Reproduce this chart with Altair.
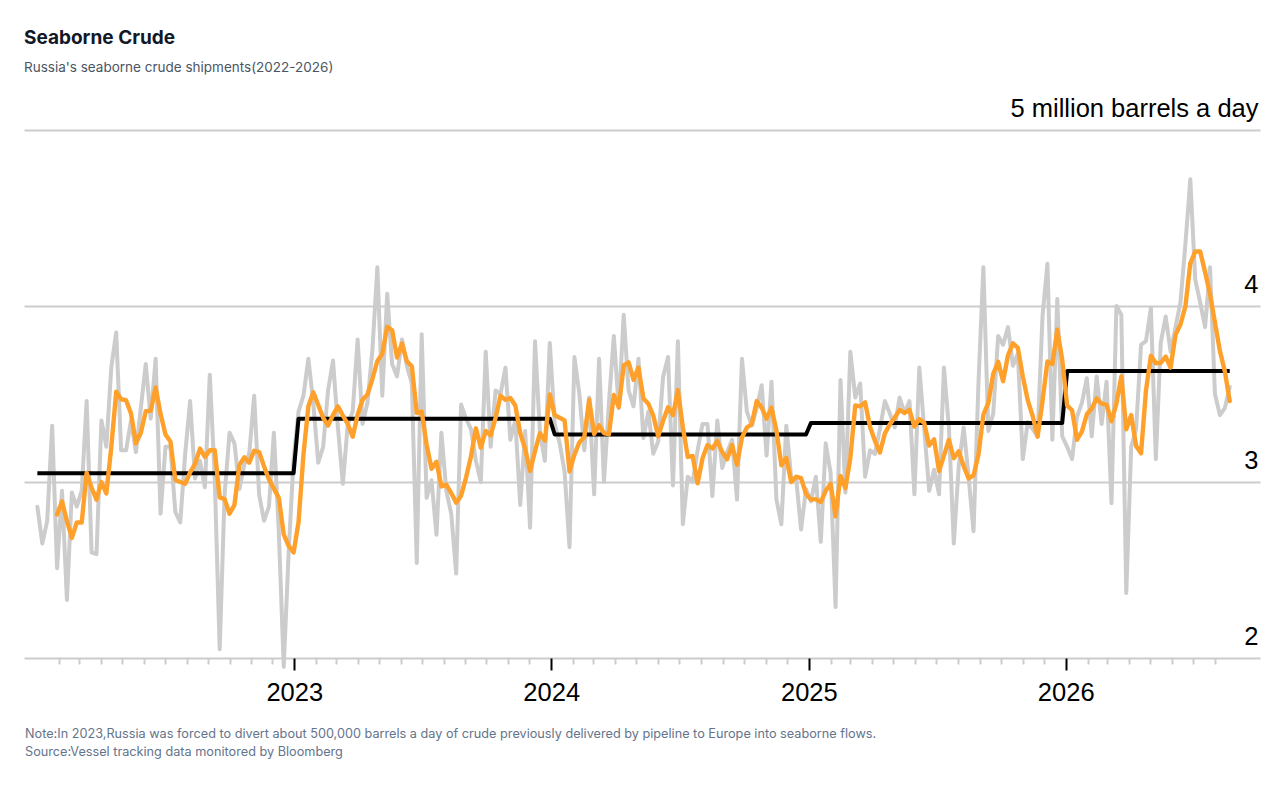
import altair as alt
import pandas as pd

# ---------------- data ----------------
first_week = "2022-01-01"
weekly_shipments = [
    2.86, 2.65, 2.78, 3.32, 2.51, 2.95, 2.33, 2.94, 2.86, 2.95,
    3.46, 2.60, 2.59, 3.35, 3.20, 3.65, 3.85, 3.18, 3.18, 3.35,
    3.17, 3.42, 3.67, 3.36, 3.70, 2.82, 3.20, 3.20, 2.83, 2.77,
    3.16, 3.46, 3.02, 3.12, 2.97, 3.61, 3.02, 2.05, 2.93, 3.28,
    3.22, 2.96, 3.10, 3.16, 3.49, 2.93, 2.78, 2.86, 3.28, 2.72,
    1.95, 2.60, 3.13, 3.40, 3.49, 3.70, 3.45, 3.11, 3.20, 3.52,
    3.69, 3.31, 2.99, 3.33, 3.40, 3.81, 3.33, 3.45, 3.75, 4.22,
    3.49, 4.07, 3.67, 3.60, 3.81, 3.66, 3.56, 2.54, 3.84, 2.91,
    3.01, 2.70, 3.28, 2.95, 2.82, 2.48, 3.44, 3.36, 3.30, 3.12,
    3.00, 3.74, 3.20, 3.52, 3.50, 3.65, 3.24, 3.35, 2.87, 3.29,
    2.74, 3.80, 3.28, 3.12, 3.79, 3.33, 3.22, 3.06, 2.63, 3.71,
    3.50, 3.18, 3.48, 2.93, 3.70, 3.00, 3.45, 3.83, 3.42, 3.95,
    3.52, 3.43, 3.70, 3.25, 3.40, 3.16, 3.23, 3.60, 3.71, 2.98,
    3.80, 2.76, 3.03, 3.00, 3.18, 3.33, 3.33, 2.92, 3.35, 3.08,
    3.17, 3.24, 2.90, 3.70, 3.40, 3.32, 3.42, 3.55, 3.15, 3.57,
    2.90, 2.76, 3.32, 3.02, 3.02, 2.73, 2.96, 2.89, 3.03, 2.66,
    3.22, 3.05, 2.29, 3.58, 2.94, 3.74, 3.48, 3.56, 3.03, 3.18,
    3.16, 3.30, 3.46, 3.39, 3.31, 3.48, 3.39, 3.46, 2.93, 3.65,
    3.30, 2.95, 3.07, 2.93, 3.65, 3.31, 2.65, 3.09, 3.31, 3.03,
    2.72, 3.56, 4.22, 3.29, 3.39, 3.83, 3.78, 3.88, 3.66, 3.73,
    3.13, 3.34, 3.30, 3.26, 3.94, 4.24, 3.24, 4.04, 3.26, 3.20,
    3.13, 3.37, 3.45, 3.59, 3.26, 3.60, 3.33, 3.57, 2.88, 4.00,
    3.95, 2.37, 3.20, 3.30, 3.78, 3.80, 3.99, 3.13, 3.79, 3.94,
    3.74, 3.88, 4.02, 4.35, 4.72, 4.15, 4.02, 3.88, 4.22, 3.50,
    3.38, 3.42, 3.54,
]
avg_years = [2022, 2023, 2024, 2025, 2026]
annual_average = [3.05, 3.36, 3.27, 3.335, 3.63]
labelled_years = [2023, 2024, 2025, 2026]
y_ticks = [2, 3, 4, 5]
unit_label = "5 million barrels a day"
title_text = "Seaborne Crude"
subtitle_text = "Russia's seaborne crude shipments(2022-2026)"
note_text = ("Note:In 2023,Russia was forced to divert about 500,000 barrels a day of crude "
             "previously delivered by pipeline to Europe into seaborne flows.")
source_text = "Source:Vessel tracking data monitored by Bloomberg"

# ---------------- tables ----------------
dates = pd.date_range(first_week, periods=len(weekly_shipments), freq="7D")
avg_lookup = dict(zip(avg_years, annual_average))
df = pd.DataFrame({
    "date": dates,
    "value": weekly_shipments,
    "avg": [avg_lookup[d.year] for d in dates],
})

month_ticks = [alt.DateTime(year=y, month=m, date=1)
               for y in range(2022, 2027) for m in range(2, 13)
               if not (y == 2026 and m > 8)]
year_ticks = [alt.DateTime(year=y, month=1, date=1) for y in labelled_years]

x_scale = alt.Scale(domain=[alt.DateTime(year=2021, month=12, date=13),
                            alt.DateTime(year=2026, month=10, date=4)])
y_scale = alt.Scale(domain=[2, 5], nice=False, zero=False)

LABEL_FONT = "Liberation Sans"

y_enc = lambda field: alt.Y(
    field, type="quantitative", scale=y_scale, title=None,
    axis=alt.Axis(orient="right", values=y_ticks, grid=True, gridColor="#cccccc",
                  gridWidth=1.8, domain=False, ticks=False, labelAlign="right",
                  labelBaseline="alphabetic", labelPadding=-2, labelOffset=-14,
                  labelFont=LABEL_FONT, labelFontSize=25.5, labelColor="#000000",
                  labelFlush=False, labelLimit=600,
                  labelExpr=f"datum.value == 5 ? '{unit_label}' : datum.label"))

base = alt.Chart(df)

gray = base.mark_line(color="#cccccc", strokeWidth=4, strokeCap="round",
                      strokeJoin="round").encode(
    x=alt.X("date:T", scale=x_scale, title=None,
            axis=alt.Axis(orient="bottom", values=month_ticks, labels=False,
                          tickColor="#cccccc", tickWidth=2, tickSize=6,
                          domain=False, grid=False)),
    y=y_enc("value"),
)

black = base.mark_line(color="#000000", strokeWidth=4, strokeJoin="round").encode(
    x=alt.X("date:T", scale=x_scale, title=None,
            axis=alt.Axis(orient="bottom", values=year_ticks, format="%Y",
                          tickColor="#000000", tickWidth=2, tickSize=12,
                          labelPadding=30, labelBaseline="alphabetic",
                          labelFont=LABEL_FONT, labelFontSize=25.5,
                          labelColor="#000000", labelFlush=False,
                          domain=False, grid=False)),
    y=y_enc("avg"),
)

orange = base.transform_window(
    ma="mean(value)", frame=[-3, 0], sort=[alt.SortField("date")]
).transform_window(
    idx="row_number()", sort=[alt.SortField("date")]
).transform_filter("datum.idx >= 5").mark_line(
    color="#ffa02a", strokeWidth=4.4, strokeCap="round", strokeJoin="round"
).encode(
    x=alt.X("date:T", scale=x_scale, title=None, axis=None),
    y=y_enc("ma"),
)

def footer_line(text, ypos):
    return alt.Chart(pd.DataFrame({"line": [text]})).mark_text(
        align="left", baseline="middle", font="Inter", fontSize=12.7,
        color="#64748b"
    ).encode(x=alt.value(1), y=alt.value(ypos), text="line:N")

chart = alt.layer(
    gray, black, orange,
    footer_line(note_text, 604), footer_line(source_text, 622),
).resolve_axis(x="independent").properties(
    width=1236, height=528,
    autosize=alt.AutoSizeParams(type="none"),
    padding={"left": 16, "top": 122, "right": 16, "bottom": 122},
    title=alt.TitleParams(
        title_text, subtitle=subtitle_text, anchor="start", frame="group",
        font="Inter", fontSize=19, fontWeight="bold", color="#111827",
        subtitleFont="Inter", subtitleFontSize=13.5, subtitleColor="#4b5563",
        subtitlePadding=13, offset=22,
    ),
    background="#ffffff",
).configure_view(strokeWidth=0)

chart.save("out.html", embed_options={"renderer": "svg", "actions": False})
